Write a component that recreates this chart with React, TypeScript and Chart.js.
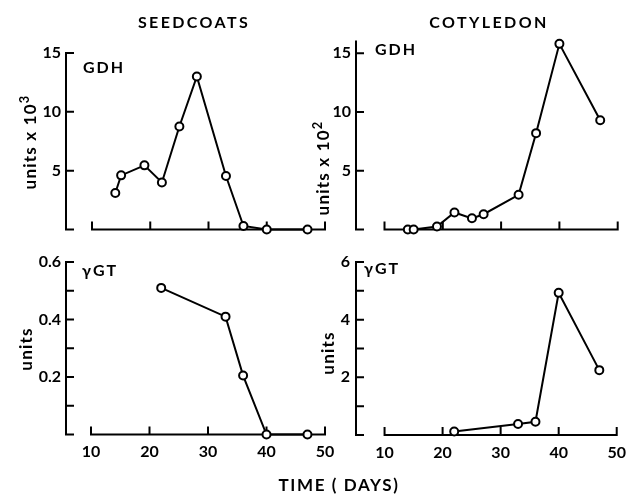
import React, { useEffect, useRef } from "react";
import { Chart, registerables } from "chart.js";

Chart.register(...registerables);

// ---- data ----
const seedGdhDays = [14, 15, 19, 22, 25, 28, 33, 36, 40, 47];
const seedGdhValues = [3.1, 4.6, 5.45, 4.0, 8.75, 13.0, 4.55, 0.3, 0, 0];
const cotGdhDays = [14, 15, 19, 22, 25, 27, 33, 36, 40, 47];
const cotGdhValues = [0, 0, 0.25, 1.45, 0.95, 1.3, 2.95, 8.2, 15.8, 9.3];
const seedGgtDays = [22, 33, 36, 40, 47];
const seedGgtValues = [0.51, 0.41, 0.205, 0, 0];
const cotGgtDays = [22, 33, 36, 40, 47];
const cotGgtValues = [0.12, 0.38, 0.46, 4.93, 2.25];

const xTicks = [10, 20, 30, 40, 50];
const xTickLabels = ["10", "20", "30", "40", "50"];
const gdhYTicks = [0, 5, 10, 15];
const gdhYLabels = ["", "5", "10", "15"];
const seedGgtYTicks = [0, 0.1, 0.2, 0.3, 0.4, 0.5, 0.6];
const seedGgtYLabels = ["", "", "0.2", "", "0.4", "", "0.6"];
const cotGgtYTicks = [0, 1, 2, 3, 4, 5, 6];
const cotGgtYLabels = ["", "", "2", "", "4", "", "6"];

const FONT = "Lato, 'DejaVu Sans', sans-serif";
const WEIGHT = 700;
const TICK = 7;

const axesPlugin = {
  id: "paperAxes",
  beforeDatasetsDraw(chart: any) {
    const { ctx, chartArea } = chart;
    const x = chart.scales.x;
    const y = chart.scales.y;
    const ax = chartArea.left;
    const yTop = y.getPixelForValue(y.max);
    const y0 = y.getPixelForValue(0);
    ctx.save();
    ctx.strokeStyle = "#000";
    ctx.lineWidth = 2;
    ctx.lineCap = "square";
    ctx.beginPath();
    ctx.moveTo(ax, yTop);
    ctx.lineTo(ax, y0);
    y.ticks.forEach((t: any) => {
      const py = y.getPixelForValue(t.value);
      ctx.moveTo(ax, py);
      ctx.lineTo(ax + TICK, py);
    });
    const xs = xTicks[0];
    const xe = xTicks[xTicks.length - 1];
    ctx.moveTo(x.getPixelForValue(xs), y0);
    ctx.lineTo(x.getPixelForValue(xe), y0);
    xTicks.forEach((v) => {
      const px = x.getPixelForValue(v);
      ctx.moveTo(px, y0);
      ctx.lineTo(px, y0 - TICK);
    });
    ctx.stroke();
    ctx.restore();
  },
};

type PanelProps = {
  box: { left: number; top: number; width: number; height: number };
  area: { left: number; right: number; top: number; bottom: number };
  x10: number;
  days: number[];
  values: number[];
  yMax: number;
  yTicks: number[];
  yLabels: string[];
  showX: boolean;
  yPad: number;
};

const YW = 40;

function Panel(p: PanelProps) {
  const ref = useRef<HTMLCanvasElement | null>(null);
  useEffect(() => {
    if (!ref.current) return;
    const XH = p.showX ? 30 : 0;
    const xMax = xTicks[xTicks.length - 1];
    const xStart = xTicks[0];
    const xMin = xStart - ((p.x10 - p.area.left) * (xMax - xStart)) / (p.area.right - p.x10);
    const chart = new Chart(ref.current, {
      type: "line",
      data: {
        datasets: [
          {
            data: p.days.map((d, i) => ({ x: d, y: p.values[i] })),
            borderColor: "#000",
            borderWidth: 2,
            pointRadius: 4,
            pointBorderWidth: 2,
            pointBackgroundColor: "#fff",
            pointBorderColor: "#000",
            tension: 0,
            clip: false as any,
          },
        ],
      },
      options: {
        responsive: false,
        animation: false,
        devicePixelRatio: 1,
        layout: {
          padding: {
            left: p.area.left - p.box.left - YW,
            top: p.area.top - p.box.top,
            right: p.box.left + p.box.width - p.area.right,
            bottom: p.box.top + p.box.height - p.area.bottom - XH,
          },
        },
        plugins: { legend: { display: false }, tooltip: { enabled: false }, title: { display: false } },
        scales: {
          x: {
            type: "linear",
            min: xMin,
            max: xMax,
            grid: { display: false, drawTicks: false },
            border: { display: false },
            afterBuildTicks: (s: any) => {
              s.ticks = xTicks.map((v) => ({ value: v }));
            },
            afterFit: (s: any) => {
              s.height = XH;
            },
            ticks: {
              display: p.showX,
              autoSkip: false,
              maxRotation: 0,
              padding: 8,
              color: "#000",
              font: { family: FONT, size: 16, weight: WEIGHT },
              callback: (_v: any, i: number) => xTickLabels[i],
            },
          },
          y: {
            type: "linear",
            min: 0,
            max: p.yMax,
            grid: { display: false, drawTicks: false },
            border: { display: false },
            afterBuildTicks: (s: any) => {
              s.ticks = p.yTicks.map((v) => ({ value: v }));
            },
            afterFit: (s: any) => {
              s.width = YW;
            },
            ticks: {
              autoSkip: false,
              padding: p.yPad,
              color: "#000",
              font: { family: FONT, size: 16, weight: WEIGHT },
              callback: (_v: any, i: number) => p.yLabels[i],
            },
          },
        },
      },
      plugins: [axesPlugin],
    } as any);
    return () => chart.destroy();
  }, []);
  return (
    <canvas
      ref={ref}
      width={p.box.width}
      height={p.box.height}
      style={{ position: "absolute", left: p.box.left, top: p.box.top, width: p.box.width, height: p.box.height }}
    />
  );
}

function Txt(props: { x: number; y: number; text: React.ReactNode; size: number; ls: number; rotate?: boolean; anchor?: "left" | "center" }) {
  const tx = props.anchor === "left" ? "0" : "-50%";
  return (
    <div
      style={{
        position: "absolute",
        left: props.x,
        top: props.y,
        transform: `translate(${tx}, -50%)${props.rotate ? " rotate(-90deg)" : ""}`,
        transformOrigin: props.anchor === "left" ? "left center" : "center center",
        fontFamily: FONT,
        fontWeight: WEIGHT,
        fontSize: props.size,
        letterSpacing: props.ls,
        whiteSpace: "nowrap",
        color: "#000",
        lineHeight: 1,
      }}
    >
      {props.text}
    </div>
  );
}

export default function App() {
  return (
    <div style={{ position: "absolute", left: 0, top: 0, width: 634, height: 495, background: "#fff", overflow: "hidden" }}>
      <Panel
        box={{ left: 0, top: 0, width: 345, height: 245 }}
        area={{ left: 66, right: 325, top: 53, bottom: 229.5 }}
        x10={92}
        days={seedGdhDays}
        values={seedGdhValues}
        yMax={15}
        yTicks={gdhYTicks}
        yLabels={gdhYLabels}
        showX={false}
        yPad={5}
      />
      <Panel
        box={{ left: 300, top: 0, width: 334, height: 245 }}
        area={{ left: 356, right: 617.7, top: 41.5, bottom: 229.5 }}
        x10={384.5}
        days={cotGdhDays}
        values={cotGdhValues}
        yMax={16}
        yTicks={gdhYTicks}
        yLabels={gdhYLabels}
        showX={false}
        yPad={5}
      />
      <Panel
        box={{ left: 0, top: 245, width: 345, height: 250 }}
        area={{ left: 66, right: 325, top: 262, bottom: 434.5 }}
        x10={91}
        days={seedGgtDays}
        values={seedGgtValues}
        yMax={0.6}
        yTicks={seedGgtYTicks}
        yLabels={seedGgtYLabels}
        showX={true}
        yPad={5}
      />
      <Panel
        box={{ left: 300, top: 245, width: 334, height: 250 }}
        area={{ left: 356, right: 618, top: 262, bottom: 435 }}
        x10={384.7}
        days={cotGgtDays}
        values={cotGgtValues}
        yMax={6}
        yTicks={cotGgtYTicks}
        yLabels={cotGgtYLabels}
        showX={true}
        yPad={6}
      />
      <Txt x={194} y={21.5} text="SEEDCOATS" size={16} ls={2.4} />
      <Txt x={489} y={21.5} text="COTYLEDON" size={16} ls={2.4} />
      <Txt x={339} y={483.5} text="TIME ( DAYS)" size={17} ls={1.6} />
      <Txt x={83} y={67} text="GDH" size={16} ls={2} anchor="left" />
      <Txt x={375} y={49} text="GDH" size={16} ls={2} anchor="left" />
      <Txt x={82} y={270} text="γGT" size={16} ls={2} anchor="left" />
      <Txt x={364} y={268} text="γGT" size={16} ls={2} anchor="left" />
      <Txt x={29} y={142} text={<span>units x 10<sup style={{ fontSize: "0.75em", lineHeight: 0 }}>3</sup></span>} size={17} ls={1.2} rotate />
      <Txt x={322} y={168} text={<span>units x 10<sup style={{ fontSize: "0.75em", lineHeight: 0 }}>2</sup></span>} size={17} ls={1.2} rotate />
      <Txt x={25} y={349} text="units" size={17} ls={1.2} rotate />
      <Txt x={327} y={353} text="units" size={17} ls={1.2} rotate />
    </div>
  );
}
